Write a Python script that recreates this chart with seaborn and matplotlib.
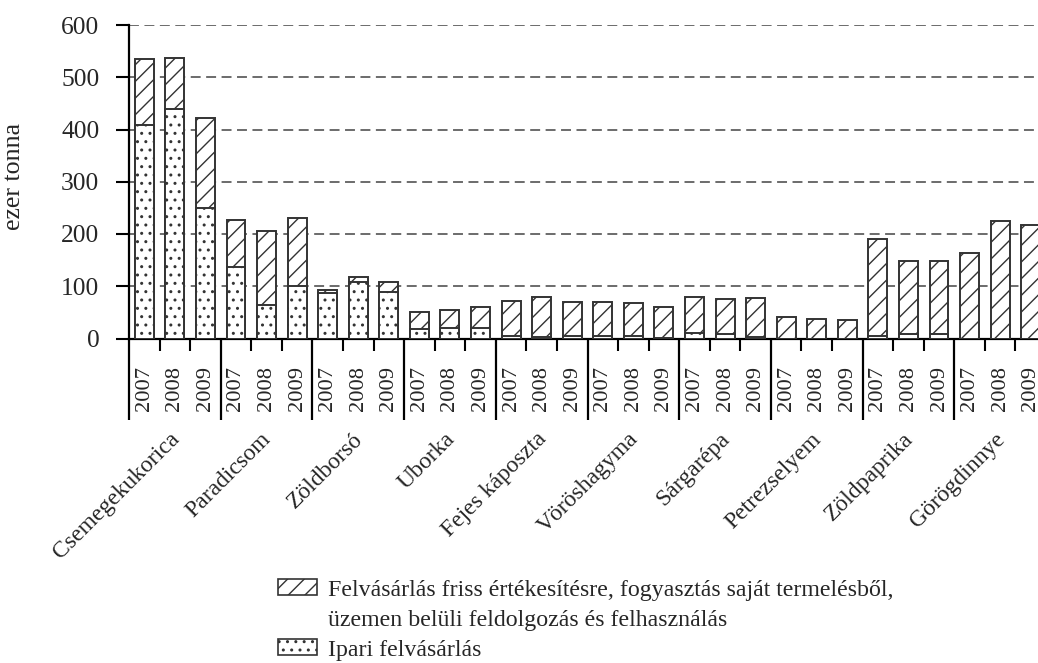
import pandas as pd
import matplotlib.pyplot as plt
import seaborn as sns
from matplotlib.patches import Patch

# ── Data ─────────────────────────────────────────────────────────────────────
categories = ["Csemegekukorica", "Paradicsom", "Zöldborsó", "Uborka",
              "Fejes káposzta", "Vöröshagyma", "Sárgarépa", "Petrezselyem",
              "Zöldpaprika", "Görögdinnye"]
years = ["2007", "2008", "2009"]

# total purchase (hatched part on top of industrial), thousand tonnes
total = [535, 537, 422,
         227, 206, 230,
         93, 118, 108,
         51, 55, 60,
         72, 79, 70,
         69, 67, 60,
         79, 75, 77,
         41, 38, 35,
         191, 149, 148,
         164, 225, 218]
# industrial purchase (dotted part)
ipari = [408, 440, 250,
         137, 65, 101,
         88, 109, 89,
         19, 20, 20,
         5, 3, 4,
         5, 5, 1,
         10, 8, 3,
         0, 0, 0,
         5, 8, 8,
         0, 0, 0]

label_friss_1 = "Felvásárlás friss értékesítésre, fogyasztás saját termelésből,"
label_friss_2 = "üzemen belüli feldolgozás és felhasználás"
label_ipari = "Ipari felvásárlás"

df = pd.DataFrame({
    "kategoria": [c for c in categories for _ in years],
    "ev": years * len(categories),
    "total": total,
    "ipari": ipari,
})
df["slot"] = df["kategoria"] + " " + df["ev"]
order = list(df["slot"])

# ── Style ────────────────────────────────────────────────────────────────────
sns.set_theme(style="white")
plt.rcParams["font.family"] = ["Liberation Serif", "DejaVu Serif"]
plt.rcParams["hatch.linewidth"] = 1.0
EDGE = "#333333"

W, H = 1038, 663
fig = plt.figure(figsize=(W / 100, H / 100), dpi=100)
ax = fig.add_axes([129 / W, (H - 338.5) / H, (1046 - 129) / W, (338.5 - 25) / H])

# ── Bars: full height hatched, industrial part dotted on top ─────────────────
sns.barplot(data=df, x="slot", y="total", order=order, color="white",
            saturation=1, edgecolor=EDGE, linewidth=1.4, hatch="//",
            width=0.62, errorbar=None, ax=ax, zorder=3)
sns.barplot(data=df, x="slot", y="ipari", order=order, color="white",
            saturation=1, edgecolor=EDGE, linewidth=1.4, hatch="..",
            width=0.62, errorbar=None, ax=ax, zorder=4)

ax.set_xlim(-0.5, len(order) - 0.5)
ax.set_ylim(0, 600)
ax.set_yticks(range(0, 601, 100))
ax.yaxis.grid(True, linestyle=(0, (6.5, 3.6)), color="#444444", linewidth=1.1)
ax.xaxis.grid(False)
ax.set_axisbelow(True)

for side in ["top", "right"]:
    ax.spines[side].set_visible(False)
for side in ["left", "bottom"]:
    ax.spines[side].set_color("black")
    ax.spines[side].set_linewidth(1.6)

# y axis
ax.tick_params(axis="y", left=True, direction="out", length=9.4, width=1.5,
               pad=12, labelsize=18.4, color="black")
ax.set_ylabel("ezer tonna", fontsize=18.6)
ax.yaxis.set_label_coords(-0.113, 0.518)

# x axis: years as rotated labels, short ticks inside groups
ax.set_xticks(range(len(order)))
ax.set_xticklabels(df["ev"], rotation=90, fontsize=16.2)
ax.tick_params(axis="x", which="major", length=0, pad=20)
ax.set_xlabel("")
minor = [i + 0.5 for i in range(len(order) - 1) if (i + 1) % 3 != 0]
ax.set_xticks(minor, minor=True)
ax.tick_params(axis="x", which="minor", bottom=True, direction="out",
               length=8.6, width=1.5, color="black")

# long separators between product groups
seps = [g * 3 - 0.5 for g in range(len(categories) + 1)]
ax.vlines(seps, 0, -0.26, transform=ax.get_xaxis_transform(),
          color="black", linewidth=1.6, clip_on=False)

# product group labels
for g, cat in enumerate(categories):
    ax.text(g * 3 + 0.8, -0.288, cat, transform=ax.get_xaxis_transform(),
            rotation=45, rotation_mode="anchor", ha="right", va="top",
            fontsize=17)

# ── Legend ───────────────────────────────────────────────────────────────────
handles = [Patch(facecolor="white", edgecolor=EDGE, hatch="//", linewidth=1.2),
           Patch(facecolor="none", edgecolor="none"),
           Patch(facecolor="white", edgecolor=EDGE, hatch="..", linewidth=1.2)]
fig.legend(handles, [label_friss_1, label_friss_2, label_ipari],
           loc="upper left", bbox_to_anchor=(278 / W, 1 - 579 / H),
           frameon=False, fontsize=17.2, handlelength=1.63,
           handleheight=0.67, handletextpad=0.46, labelspacing=0.36,
           borderpad=0, borderaxespad=0)

fig.savefig("out.png", dpi=100)
